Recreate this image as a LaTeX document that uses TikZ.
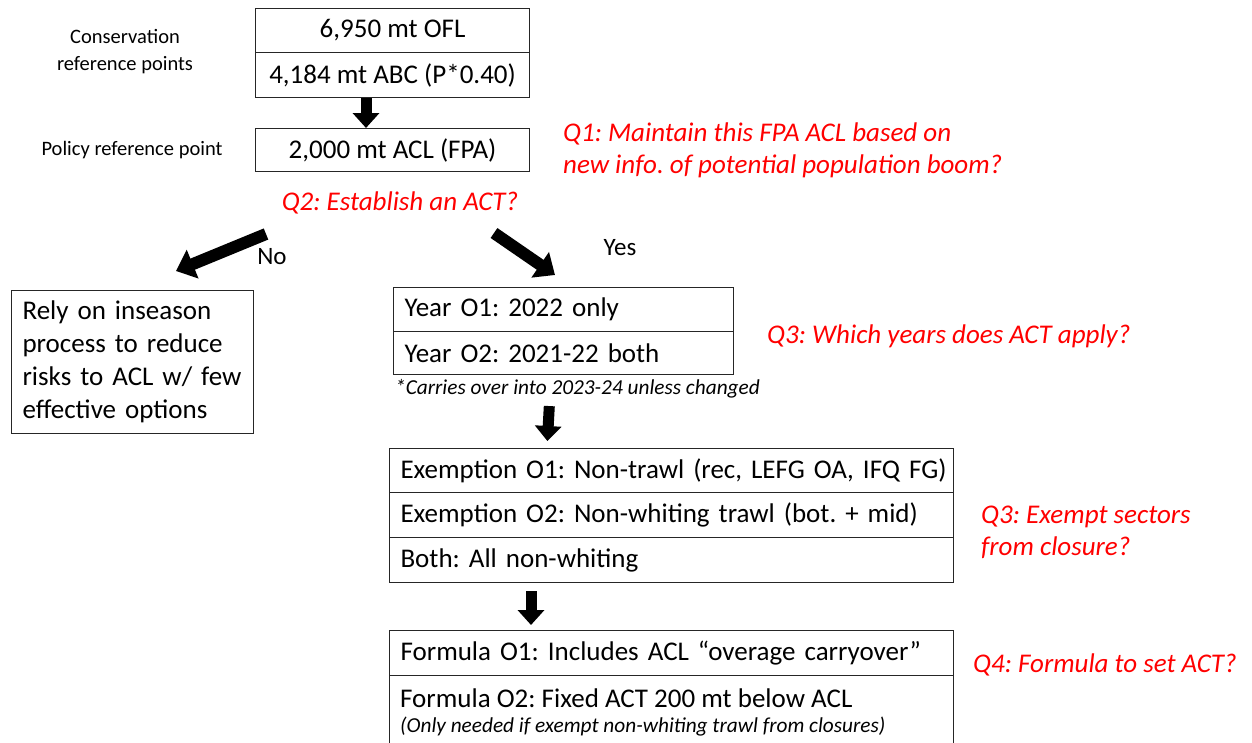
\documentclass[tikz,border=0pt]{standalone}
\usepackage{fontspec}
\setmainfont{Carlito}
\usetikzlibrary{arrows.meta}
\frenchspacing
\begin{document}
\begin{tikzpicture}[x=1pt,y=-1pt,
  box/.style={draw=black!85, line width=1.1pt, anchor=north west, inner sep=0pt,
    font=\fontsize{27}{30}\selectfont},
  ctr/.style={box, align=center},
  lft/.style={box, align=left, inner xsep=11pt},
  lbl/.style={font=\fontsize{20.5}{27}\selectfont, align=center},
  qtext/.style={text=red, font=\fontsize{27}{32}\selectfont\itshape, align=left, anchor=west, inner sep=0pt},
  note/.style={font=\fontsize{21.3}{24}\selectfont\itshape, anchor=west, inner sep=0pt},
  blk/.style={draw=black, line width=11pt, -{Triangle[width=26pt,length=15pt]}},
  dblk/.style={draw=black, line width=12pt, -{Triangle[width=30pt,length=18pt]}}
]
\useasboundingbox (0,0) rectangle (1252,742);
\clip (0,0) rectangle (1252,742);

% top boxes
\node[ctr, minimum width=274pt, minimum height=44pt] (ofl) at (255,8) {6,950 mt OFL};
\node[ctr, minimum width=274pt, minimum height=45pt] (abc) at (255,52) {4,184 mt ABC (P*0.40)};
\node[ctr, minimum width=274pt, minimum height=43pt] (acl) at (255,128) {2,000 mt ACL (FPA)};

\node[lbl] (cons) at (125,52) {Conservation\\reference points};
\node[lbl] (pol) at (132,150) {Policy reference point};

\node[qtext] (q1) at (563,150) {Q1: Maintain this FPA ACL based on\\new info. of potential population boom?};
\node[qtext, anchor=center] (q2) at (400,203) {Q2: Establish an ACT?};

% left box
\node[lft, text width=220pt, minimum height=143pt, font=\fontsize{27}{33}\selectfont] (lb) at (11,290)
  {Rely on inseason\\process to reduce\\risks to ACL w/ few\\effective options};

\node[font=\fontsize{25}{28}\selectfont] (no) at (272,257) {No};
\node[font=\fontsize{25}{28}\selectfont] (yes) at (620,248) {Yes};

% year boxes
\node[lft, text width=318pt, minimum height=44pt] (yr1) at (393,287) {Year O1: 2022 only};
\node[lft, text width=318pt, minimum height=43pt] (yr2) at (393,331) {Year O2: 2021-22 both};
\node[note] (carry) at (395,389) {*Carries over into 2023-24 unless changed};
\node[qtext] (q3a) at (767,336) {Q3: Which years does ACT apply?};

% exemption boxes
\node[lft, text width=542pt, minimum height=44pt] (ex1) at (389,448) {\mbox{Exemption O1:\ Non-trawl (rec, LEFG OA, IFQ FG)}};
\node[lft, text width=542pt, minimum height=45pt] (ex2) at (389,492) {\mbox{Exemption O2: Non-whiting trawl (bot. + mid)}};
\node[lft, text width=542pt, minimum height=45pt] (ex3) at (389,537) {Both: All non-whiting};
\node[qtext] (q3b) at (981,532) {Q3: Exempt sectors\\from closure?};

% formula boxes
\node[lft, text width=542pt, minimum height=45pt] (f1) at (389,630) {\mbox{Formula O1:\ Includes ACL \textquotedblleft overage carryover\textquotedblright}};
\node[box, minimum width=564pt, minimum height=90pt] (f2) at (389,675) {};
\node[anchor=base west, inner sep=0pt, font=\fontsize{27}{30}\selectfont] (f2a) at (400,707) {Formula O2:\ Fixed ACT 200 mt below ACL};
\node[note, anchor=base west] (f2b) at (400,732) {(Only needed if exempt non-whiting trawl from closures)};
\node[qtext] (q4) at (973,665) {Q4: Formula to set ACT?};

% arrows
\draw[blk] ([xshift=111pt]abc.south west) -- ([xshift=111pt]acl.north west);
\coordinate (nos) at (266,234);
\coordinate (noe) at (176,271);
\coordinate (yess) at (494,233);
\coordinate (yese) at (555,275);
\draw[dblk] (nos) -- (noe);
\draw[dblk] (yess) -- (yese);
\draw[blk, shorten <=31pt, shorten >=7pt] ([xshift=158pt]yr2.south west) -- ([xshift=158pt]ex1.north west);
\draw[blk, shorten <=8pt, shorten >=5pt] ([xshift=142pt]ex3.south west) -- ([xshift=142pt]f1.north west);
\end{tikzpicture}
\end{document}
